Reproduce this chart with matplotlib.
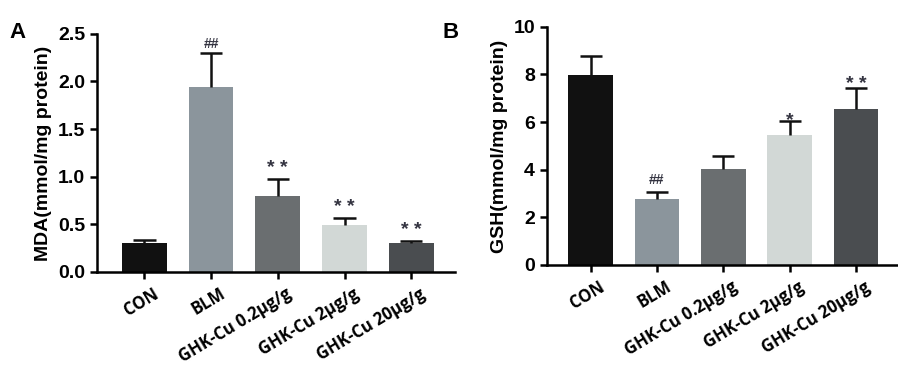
import numpy as np
import matplotlib
matplotlib.use("Agg")
import matplotlib.pyplot as plt
import matplotlib.transforms as mtransforms

groups = ["CON", "BLM", "GHK-Cu 0.2μg/g", "GHK-Cu 2μg/g", "GHK-Cu 20μg/g"]
bar_colors = ["#111111", "#8b959c", "#6a6e70", "#d2d8d6", "#4a4d50"]

mda_mean = [0.30, 1.94, 0.80, 0.49, 0.30]
mda_err = [0.04, 0.36, 0.18, 0.08, 0.03]
mda_marks = ["", "##", "* *", "* *", "* *"]

gsh_mean = [7.97, 2.77, 4.01, 5.44, 6.57]
gsh_err = [0.81, 0.31, 0.58, 0.59, 0.88]
gsh_marks = ["", "##", "", "*", "* *"]

plt.rcParams["font.family"] = ["Liberation Sans", "DejaVu Sans"]
plt.rcParams["font.weight"] = "bold"


def draw_panel(ax, means, errs, marks, mark_dy, ylim, yticks, ylabel, xlim):
    x = np.arange(len(groups))
    w = 0.67
    ax.bar(x, means, width=w, color=bar_colors, zorder=2)
    tops = np.array(means) + np.array(errs)
    ax.vlines(x, means, tops, color="#111111", lw=1.8, zorder=3)
    ax.hlines(tops, x - w / 4, x + w / 4, color="#111111", lw=1.8, zorder=3)
    for xi, t, m, dy in zip(x, tops, marks, mark_dy):
        if m:
            fs = 10 if m.startswith("#") else 14
            ax.annotate(m, (xi, t), xytext=(0, dy), textcoords="offset points",
                        ha="center", va="bottom", fontsize=fs,
                        color="#333340", fontweight="bold")
    for s in ["top", "right"]:
        ax.spines[s].set_visible(False)
    for s in ["left", "bottom"]:
        ax.spines[s].set_linewidth(1.8)
    ax.tick_params(axis="both", width=1.8, length=5)
    ax.tick_params(axis="y", labelsize=14)
    ax.set_xlim(*xlim)
    ax.set_ylim(*ylim)
    ax.set_yticks(yticks)
    ax.set_xticks(x)
    ax.set_xticklabels(groups, rotation=31, ha="right", rotation_mode="anchor",
                       family=["Open Sans", "DejaVu Sans"], fontsize=12,
                       fontweight="bold")
    offset = mtransforms.ScaledTranslation(0.08, -0.01, ax.figure.dpi_scale_trans)
    for lab in ax.get_xticklabels():
        lab.set_transform(lab.get_transform() + offset)
    ax.set_ylabel(ylabel, fontsize=14, fontweight="bold", labelpad=4)
    for lab in ax.get_yticklabels():
        lab.set_fontweight("bold")


fig = plt.figure(figsize=(8.98, 3.68), dpi=100)
ax1 = fig.add_axes([0.108, 0.261, 0.399, 0.647])
ax2 = fig.add_axes([0.609, 0.280, 0.390, 0.647])

draw_panel(ax1, mda_mean, mda_err, mda_marks, [0, 1.4, 1.4, 1.4, 1.4],
           (0, 2.5), [0.0, 0.5, 1.0, 1.5, 2.0, 2.5], "MDA(mmol/mg protein)",
           (-0.71, 4.66))
ax1.yaxis.set_major_formatter(matplotlib.ticker.FormatStrFormatter("%.1f"))
draw_panel(ax2, gsh_mean, gsh_err, gsh_marks, [0, 3.2, 0, -5.5, -4],
           (0, 10), [0, 2, 4, 6, 8, 10], "GSH(mmol/mg protein)",
           (-0.66, 4.62))

fig.text(0.011, 0.897, "A", fontsize=16, fontweight="bold")
fig.text(0.493, 0.897, "B", fontsize=16, fontweight="bold")

fig.savefig("out.png", dpi=100)
